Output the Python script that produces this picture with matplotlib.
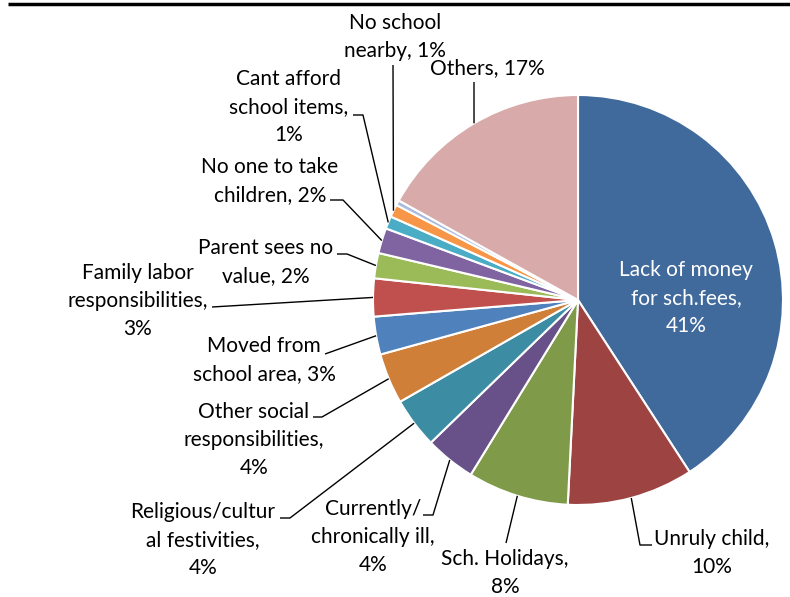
import numpy as np
import matplotlib
matplotlib.use("Agg")
import matplotlib.pyplot as plt

plt.rcParams['font.family'] = ['Lato', 'DejaVu Sans']

# reasons for children being out of school (share of responses, %)
reasons = ["Lack of money\nfor sch.fees,\n41%", "Unruly child,\n10%", "Sch. Holidays,\n8%",
           "Currently/\nchronically ill,\n4%", "Religious/cultur\nal festivities,\n4%",
           "Other social\nresponsibilities,\n4%", "Moved from\nschool area, 3%",
           "Family labor\nresponsibilities,\n3%", "Parent sees no\nvalue, 2%",
           "No one to take\nchildren, 2%", "Cant afford\nschool items,\n1%",
           "No school\nnearby, 1%", "", "Others, 17%"]
shares = [41, 10, 8, 4, 4, 4, 3, 3, 2, 2, 1, 1, 0.4, 17]
colors = ["#416A9C", "#9D4341", "#7F9A48", "#685088", "#3C8DA3", "#D07F38",
          "#4F81BD", "#C0504D", "#9BBB59", "#8064A2", "#4BACC6", "#F79646",
          "#A9BCDD", "#D8AAAA"]

W, H = 790, 597
cx, cy, R = 578, 300, 205

fig = plt.figure(figsize=(W / 100, H / 100), dpi=100)
ax = fig.add_axes([0, 0, 1, 1])


def py(y):
    # pixel row (top-down) to axes y
    return H - y


wedges, _ = ax.pie(shares, colors=colors, startangle=90, counterclock=False,
                   center=(cx, py(cy)), radius=R,
                   wedgeprops=dict(edgecolor='white', linewidth=1.5))
ax.set_xlim(0, W)
ax.set_ylim(0, H)
ax.set_aspect('equal')
ax.axis('off')

# label placement: text centre and leader-line start points (pixel rows)
text_pos = [(686, 298), (712, 553), (505, 573), (373, 537), (203, 540),
            (254, 440), (264, 360), (138, 301), (266, 262), (270, 181),
            (289, 107), (395, 37), None, (487, 68)]
leader_pts = [None, [(652, 545), (640, 545)], [(506, 543)],
              [(423, 515), (433, 515)], [(280, 518), (290, 518)],
              [(313, 417), (322, 417)], [(325, 354)],
              [(212, 307)], [(337, 254), (347, 254)],
              [(330, 200), (343, 200)], [(353, 115), (363, 115)],
              [(393, 65)], None, [(474, 82)]]

for i, (w, lab) in enumerate(zip(wedges, reasons)):
    if not lab:
        continue
    tx, ty = text_pos[i]
    if i == 0:
        ax.text(tx, py(ty), lab, ha='center', va='center', color='white',
                fontsize=15, linespacing=1.5)
        continue
    ax.text(tx, py(ty), lab, ha='center', va='center', color='black',
            fontsize=15, linespacing=1.5)
    mid = np.deg2rad((w.theta1 + w.theta2) / 2)
    ex, ey = cx + R * np.cos(mid), py(cy) + R * np.sin(mid)
    xs = [p[0] for p in leader_pts[i]] + [ex]
    ys = [py(p[1]) for p in leader_pts[i]] + [ey]
    ax.plot(xs, ys, color='black', lw=1.0, solid_capstyle='butt')

# heavy rule across the top
ax.plot([8, W], [py(4), py(4)], color='black', lw=2.5, solid_capstyle='butt')

fig.savefig("out.png", dpi=100)
